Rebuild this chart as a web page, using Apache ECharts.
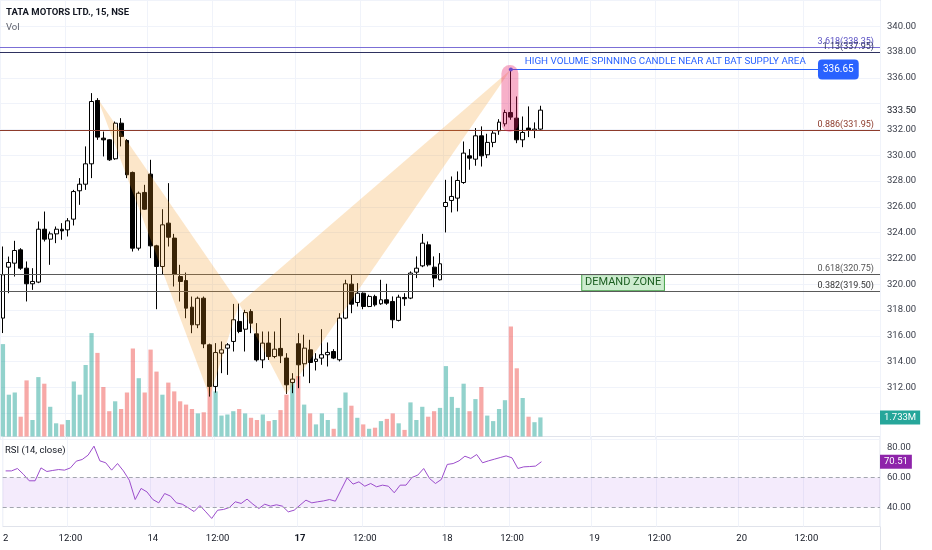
<!DOCTYPE html>
<html><head><meta charset="utf-8">
<script src="https://cdn.jsdelivr.net/npm/echarts@6.0.0/dist/echarts.min.js"></script>
<style>html,body{margin:0;padding:0;background:#fff}#c{width:932px;height:550px}</style>
</head><body><div id="c"></div>
<script>
// ---------- data ----------
const sessionDays = ['13','14','17','18','19','20'];
const slotsPerDay = 25;
const visibleSlots = 149;
const categories = [];
sessionDays.forEach(d => { for (let k = 0; k < slotsPerDay; k++) { const m = 9*60 + 15 + 15*k; categories.push(d + ' ' + String(Math.floor(m/60)).padStart(2,'0') + ':' + String(m%60).padStart(2,'0')); } });
categories.length = visibleSlots;

const tickIndex = [0, 11, 25, 36, 50, 61, 75, 86, 100, 111, 125, 136];
const tickText  = ['2','12:00','14','12:00','17','12:00','18','12:00','19','12:00','20','12:00'];
const boldTicks = ['17'];

const openP = [317.38,321.33,321.64,322.67,321.25,320.04,320.17,324.27,323.50,323.91,
324.27,324.22,325.05,327.25,327.76,329.34,334.25,331.33,331.20,329.73,
332.49,331.15,328.67,322.80,327.12,328.54,322.98,321.38,324.74,323.58,
320.60,320.29,318.23,316.86,318.92,315.31,312.08,314.66,315.05,315.57,
317.12,316.52,317.89,316.16,314.14,315.44,314.40,315.03,314.28,312.39,
315.39,313.84,314.92,314.02,314.28,314.54,314.79,314.15,317.38,320.01,
318.59,319.31,318.28,319.06,318.49,318.80,318.67,317.20,318.98,318.93,
320.94,321.43,323.06,321.33,320.35,326.03,326.50,326.68,327.89,329.96,
329.70,331.51,330.04,331.00,331.90,332.44,333.32,332.88,331.20,332.11,
331.93,332.03];
const closeP = [320.74,321.69,322.62,321.25,320.04,320.22,324.27,323.50,323.91,324.27,
324.14,324.92,327.19,327.76,329.34,334.17,331.41,331.20,329.65,332.49,
331.46,328.49,322.80,327.06,325.82,322.98,321.38,324.61,323.65,320.78,
320.22,318.15,316.86,318.92,315.38,312.08,314.71,314.92,315.31,317.25,
316.34,317.81,316.99,314.14,315.44,314.40,314.97,314.46,312.21,312.65,
313.76,315.05,313.94,314.20,314.54,314.72,314.28,317.38,320.04,318.46,
319.31,318.28,319.06,318.41,318.80,318.54,317.25,319.00,318.88,320.87,
321.25,323.19,321.51,320.48,321.59,326.34,326.81,328.05,330.17,329.78,
331.51,329.96,331.00,331.72,332.57,333.32,332.96,331.20,331.77,331.93,
332.03,333.50];
const lowP = [316.22,319.31,320.60,321.12,318.67,319.57,320.09,323.32,321.51,323.19,
323.45,323.71,324.56,326.16,327.32,328.23,331.20,329.91,329.57,329.65,
330.69,328.23,322.54,322.62,325.77,322.03,318.07,320.78,322.93,319.83,
318.67,317.37,316.21,316.60,315.05,311.30,311.60,313.11,312.98,314.79,
316.21,314.79,316.21,314.01,313.50,314.14,314.27,313.89,311.50,311.56,
311.95,312.85,312.34,313.32,313.76,313.63,314.20,314.02,317.30,317.76,
318.28,318.07,318.23,318.28,318.41,318.41,316.60,317.12,318.33,318.85,
320.48,321.33,321.38,319.78,320.30,324.02,325.57,325.65,327.79,328.88,
329.19,329.13,329.78,330.63,331.59,332.24,332.75,330.94,330.63,331.41,
331.33,331.98];
const highP = [322.93,322.15,323.37,322.80,321.77,321.25,324.87,325.64,324.09,324.48,
324.74,325.13,327.32,328.23,330.69,334.82,334.43,331.84,331.25,332.62,
332.88,331.25,328.74,327.19,327.71,329.65,323.06,325.82,327.84,323.91,
321.51,320.91,319.05,319.05,319.05,315.40,315.44,315.57,315.44,318.48,
318.50,318.02,318.07,316.99,316.34,316.34,316.34,317.38,314.66,313.11,
316.21,316.09,315.70,314.66,316.52,315.49,314.97,317.76,320.35,320.74,
320.09,319.37,319.19,319.19,320.35,320.04,319.06,319.19,319.31,321.00,
322.16,323.91,323.32,322.16,322.42,328.10,328.36,328.75,331.07,330.48,
332.11,332.24,331.67,331.93,332.80,333.53,336.65,334.56,333.01,333.79,
332.55,333.84];

const volumeM = [8.4,3.8,4.0,1.8,5.1,1.5,5.4,4.8,2.7,1.2,
1.1,1.5,5.0,3.8,6.5,9.4,7.6,4.5,2.3,3.2,
2.5,4.0,8.0,5.3,4.0,7.9,5.9,3.8,4.9,4.1,
3.2,2.9,2.5,2.1,2.2,4.5,4.1,1.9,2.0,2.3,
2.5,2.1,1.7,1.5,2.0,1.4,1.5,2.4,3.8,5.2,
5.5,2.9,2.1,1.1,2.1,1.5,0.7,2.6,4.0,2.8,
1.7,1.1,0.7,0.8,1.4,1.6,2.1,1.2,0.6,3.1,
1.5,2.7,1.8,2.3,2.6,6.4,3.6,2.6,4.8,2.3,
3.4,4.5,1.9,1.4,2.5,3.3,10.0,6.2,3.5,1.8,
1.3,1.733];

const rsiVals = [64.4,64.4,66.0,62.2,57.8,57.8,66.4,64.0,64.7,65.3,
64.9,66.4,70.9,72.0,74.9,80.9,71.1,69.8,64.9,69.3,
64.4,58.2,45.3,52.7,50.4,45.3,43.1,49.3,47.6,43.1,
42.2,39.8,37.3,41.3,37.1,32.7,38.2,38.7,40.0,43.8,
42.7,45.6,42.2,39.3,42.2,40.9,41.8,40.9,37.1,38.2,
41.6,44.9,43.1,43.8,44.4,45.3,44.2,52.0,59.8,55.6,
57.1,54.2,56.0,53.8,54.9,54.2,49.8,54.9,54.9,60.0,
61.6,66.0,59.3,56.0,58.7,68.7,69.3,71.1,74.2,72.7,
75.3,69.8,71.1,72.2,73.3,74.4,73.1,66.0,67.1,67.3,
67.6,70.51];
const rsiBand = [40, 60];
const rsiTicks = [40, 60, 80];

const fibLevels = [338.35, 337.95, 331.95, 320.75, 319.50];
const fibLabels = ['3.618(338.35)', '1.13(337.95)', '0.886(331.95)', '0.618(320.75)', '0.382(319.50)'];

// XABCD pattern points (candle index, price)
const patternIdx = [16, 35, 40, 48, 86];
const patternPrice = [334.43, 311.30, 318.50, 311.50, 336.65];

const highlightIdx = 86, highlightTop = 337.0, highlightBottom = 331.8;
const calloutEndIdx = 138;
const calloutText = 'HIGH VOLUME SPINNING CANDLE NEAR ALT BAT SUPPLY AREA';
const demandZone = { startIdx: 98, endIdx: 112, top: 320.75, bottom: 319.50, text: 'DEMAND ZONE' };

// ---------- styles ----------
const FONT = 'Roboto, "Noto Sans", sans-serif';
const fibLineColors = ['#7b6fd6', '#2e3160', '#8d3b2c', '#5a5a5a', '#5a5a5a'];
const fibTextColors = ['#5b52c4', '#2e3160', '#8d3b2c', '#555555', '#333333'];
const volUp = 'rgba(38,166,154,0.5)', volDown = 'rgba(239,83,80,0.5)';
const gridLeft = -1.97, gridRight = 52;

const tickSet = new Set(tickIndex);
const tickMap = {}; tickIndex.forEach((k, i) => tickMap[k] = tickText[i]);
const last = closeP.length - 1;

const chart = echarts.init(document.getElementById('c'), null, { renderer: 'canvas' });

const xBase = (gi, labels) => ({
  type: 'category', gridIndex: gi, data: categories, boundaryGap: true,
  axisLine: { show: false }, axisTick: { show: false },
  axisLabel: labels ? {
    show: true, interval: (i) => tickSet.has(i), margin: 7, fontSize: 9.5, color: '#131722', fontFamily: FONT,
    formatter: (v, i) => { const t = tickMap[i] || ''; return boldTicks.includes(t) ? '{b|' + t + '}' : t; },
    rich: { b: { fontWeight: 'bold', fontSize: 9.5, color: '#131722', fontFamily: FONT } }
  } : { show: false },
  splitLine: { show: true, interval: (i) => tickSet.has(i), lineStyle: { color: '#f0f3fa' } }
});

const option = {
  animation: false,
  backgroundColor: '#ffffff',
  textStyle: { fontFamily: FONT },
  title: [
    { text: 'TATA MOTORS LTD., 15, NSE', left: 6, top: 8, padding: 0, textStyle: { fontSize: 9.5, fontWeight: 'bold', color: '#131722', fontFamily: FONT } },
    { text: 'Vol', left: 6, top: 23, padding: 0, textStyle: { fontSize: 9.5, fontWeight: 'normal', color: '#5d606b', fontFamily: FONT } },
    { text: 'RSI (14, close)', left: 5, top: 446, padding: 0, textStyle: { fontSize: 9.5, fontWeight: 'normal', color: '#131722', fontFamily: FONT } }
  ],
  grid: [
    { left: gridLeft, right: gridRight, top: 0.5, height: 438.6 },
    { left: gridLeft, right: gridRight, top: 216.5, height: 220 },
    { left: gridLeft, right: gridRight, top: 436.5, height: 90, show: true, borderColor: '#e0e3eb', borderWidth: 1, backgroundColor: 'transparent' }
  ],
  xAxis: [ xBase(0, false), xBase(1, false), xBase(2, true) ],
  yAxis: [
    { type: 'value', gridIndex: 0, position: 'right', min: 308, max: 342, interval: 2,
      axisLine: { show: false }, axisTick: { show: false },
      axisLabel: { margin: 7, fontSize: 9.5, color: '#3a3e4a', fontFamily: FONT,
        formatter: (v) => (v < 311 || v > 341 || v === 334) ? '' : v.toFixed(2) },
      splitLine: { lineStyle: { color: '#f0f3fa' } } },
    { type: 'value', gridIndex: 1, min: 0, max: 20, show: false, splitLine: { show: false } },
    { type: 'value', gridIndex: 2, position: 'right', min: 27.33, max: 87.33,
      axisLine: { show: false }, axisTick: { show: false },
      axisLabel: { customValues: rsiTicks, margin: 7, fontSize: 9.5, color: '#3a3e4a', fontFamily: FONT, formatter: (v) => v.toFixed(2) },
      splitLine: { show: false } }
  ],
  series: [
    {
      name: 'Vol', type: 'bar', xAxisIndex: 1, yAxisIndex: 1, barWidth: '72%', z: 1,
      data: volumeM.map((v, i) => ({ value: v, itemStyle: { color: closeP[i] >= openP[i] ? volUp : volDown } })),
      markLine: { silent: true, symbol: ['none', 'none'], animation: false, data: [
        { yAxis: volumeM[last], lineStyle: { color: 'transparent' },
          label: { show: true, position: 'end', distance: 0, formatter: volumeM[last].toFixed(3) + 'M', color: '#fff', backgroundColor: '#26a69a', padding: [2, 4], fontSize: 9.5, fontFamily: FONT } }
      ] }
    },
    {
      name: 'TATAMOTORS', type: 'candlestick', xAxisIndex: 0, yAxisIndex: 0, barWidth: '74%', z: 2,
      data: openP.map((o, i) => [o, closeP[i], lowP[i], highP[i]]),
      itemStyle: { color: '#ffffff', color0: '#000000', borderColor: '#000000', borderColor0: '#000000', borderWidth: 1 },
      markArea: { silent: true, data: [[
        { coord: [demandZone.startIdx, demandZone.top], itemStyle: { color: '#cdeccf', borderColor: '#43a047', borderWidth: 1 },
          label: { show: true, position: 'inside', formatter: demandZone.text, color: '#1b5e20', fontSize: 11, fontFamily: FONT } },
        { coord: [demandZone.endIdx, demandZone.bottom] }
      ]] },
      markLine: { silent: true, symbol: ['none', 'none'], animation: false, data: [
        ...fibLevels.map((v, i) => ({ yAxis: v, lineStyle: { color: fibLineColors[i], width: 1, type: 'solid' },
          label: { show: true, position: 'insideEndTop', distance: [6, 1], formatter: fibLabels[i], color: fibTextColors[i], fontSize: 9, fontFamily: FONT } })),
        { yAxis: closeP[last], lineStyle: { color: 'transparent' },
          label: { show: true, position: 'end', distance: 4, formatter: closeP[last].toFixed(2), color: '#131722', backgroundColor: '#ffffff', padding: [1, 3], fontSize: 9.5, fontFamily: FONT } },
        [
          { coord: [patternIdx[4], patternPrice[4]], symbol: 'circle', symbolSize: 4,
            lineStyle: { color: '#2962ff', width: 1, type: 'solid' },
            label: { show: true, position: 'end', distance: 0, formatter: patternPrice[4].toFixed(2), color: '#fff', backgroundColor: '#2962ff', padding: [5, 5], borderRadius: 4, fontSize: 10, fontFamily: FONT } },
          { coord: [calloutEndIdx, patternPrice[4]], symbol: 'none' }
        ]
      ] }
    },
    {
      name: 'pattern', type: 'custom', xAxisIndex: 0, yAxisIndex: 0, z: 5, silent: true,
      data: [[patternIdx[0], patternPrice[0]]],
      renderItem: (params, api) => {
        const P = patternIdx.map((x, i) => api.coord([x, patternPrice[i]]));
        const fill = 'rgba(242,150,30,0.24)';
        return { type: 'group', children: [
          { type: 'polygon', shape: { points: [P[0], P[1], P[2]] }, style: { fill: fill } },
          { type: 'polygon', shape: { points: [P[2], P[3], P[4]] }, style: { fill: fill } }
        ] };
      }
    },
    {
      name: 'highlight', type: 'custom', xAxisIndex: 0, yAxisIndex: 0, z: 6, silent: true,
      data: [[highlightIdx, highlightTop, highlightBottom]],
      encode: { x: 0, y: [1, 2] },
      renderItem: (params, api) => {
        const t = api.coord([api.value(0), api.value(1)]);
        const b = api.coord([api.value(0), api.value(2)]);
        const w = 17;
        return { type: 'rect', shape: { x: t[0] - w / 2 - 1, y: t[1], width: w, height: b[1] - t[1], r: w / 2 },
          style: { fill: 'rgba(233,30,99,0.35)' } };
      }
    },
    {
      name: 'callout', type: 'custom', xAxisIndex: 0, yAxisIndex: 0, z: 7, silent: true,
      data: [[highlightIdx + 1, patternPrice[4]]],
      renderItem: (params, api) => {
        const p = api.coord([api.value(0), api.value(1)]);
        return { type: 'text', x: p[0] + 8, y: p[1] - 3,
          style: { text: calloutText, fill: '#2962ff', fontSize: 9.8, fontFamily: FONT, verticalAlign: 'bottom', align: 'left' } };
      }
    },
    {
      name: 'RSI', type: 'line', xAxisIndex: 2, yAxisIndex: 2, data: rsiVals, showSymbol: false, symbol: 'none', z: 3,
      lineStyle: { color: '#9c4dcc', width: 1 },
      markArea: { silent: true, itemStyle: { color: 'rgba(149,60,230,0.1)' }, data: [[ { yAxis: rsiBand[0] }, { yAxis: rsiBand[1] } ]] },
      markLine: { silent: true, symbol: ['none', 'none'], animation: false, data: [
        { yAxis: rsiBand[1], lineStyle: { color: '#a3a6af', type: [4, 3], width: 1 }, label: { show: false } },
        { yAxis: rsiBand[0], lineStyle: { color: '#a3a6af', type: [4, 3], width: 1 }, label: { show: false } },
        { yAxis: rsiVals[last], lineStyle: { color: 'transparent' },
          label: { show: true, position: 'end', distance: 0, formatter: rsiVals[last].toFixed(2), color: '#fff', backgroundColor: '#8e24aa', padding: [2, 4], fontSize: 9.5, fontFamily: FONT } }
      ] }
    }
  ],
  graphic: [
    { type: 'line', shape: { x1: 880.5, y1: 0, x2: 880.5, y2: 550 }, style: { stroke: '#e0e3eb', lineWidth: 1 }, silent: true, z: 0 }
  ]
};
chart.setOption(option);
</script>
</body></html>
